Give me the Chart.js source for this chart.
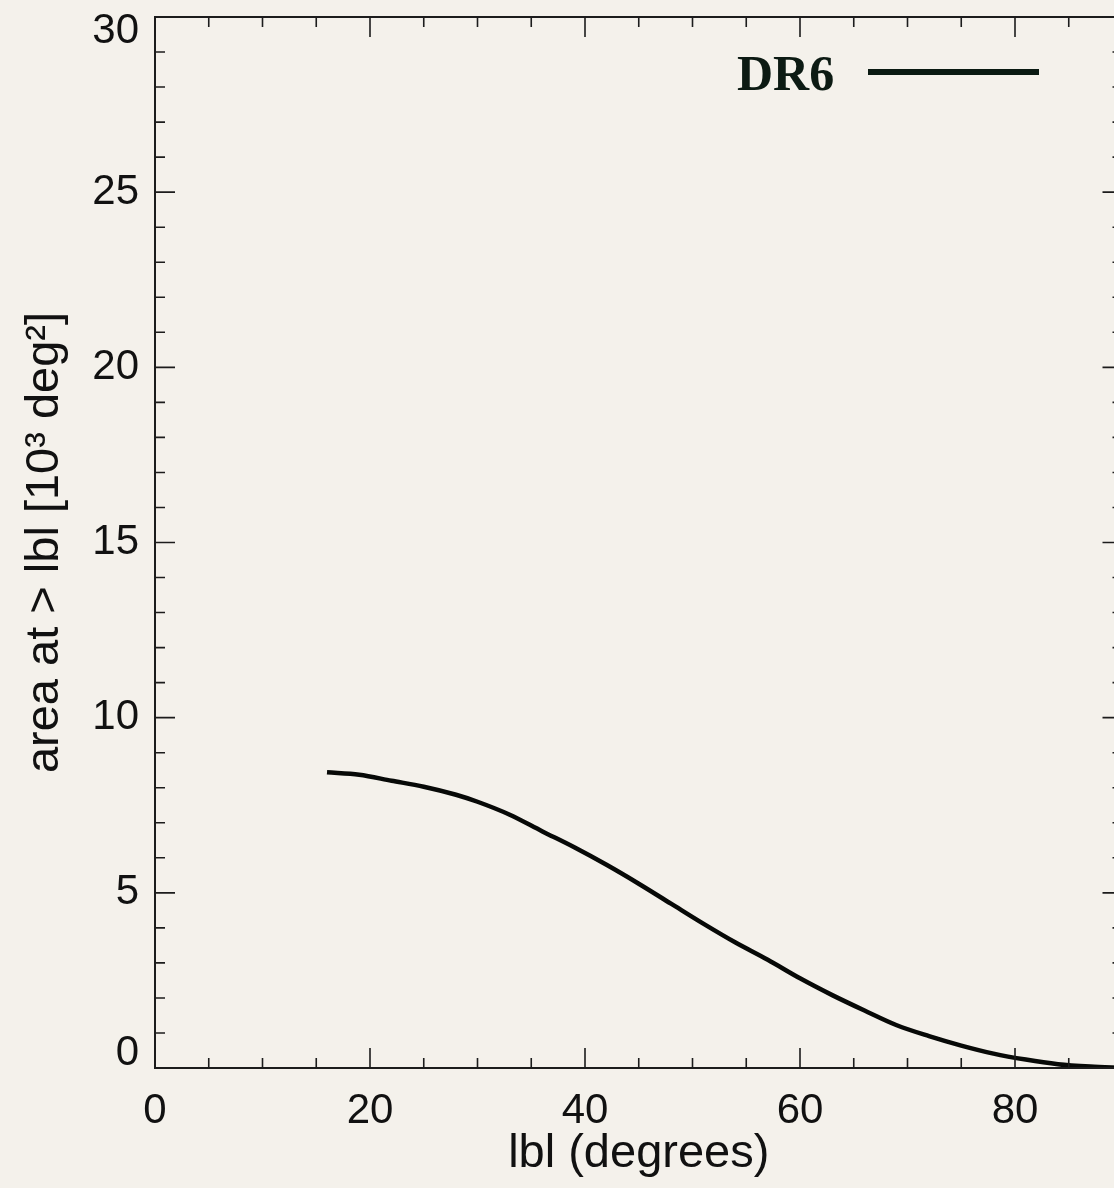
<!DOCTYPE html>
<html>
<head>
<meta charset="utf-8">
<script src="https://cdn.jsdelivr.net/npm/chart.js@4.4.1/dist/chart.umd.min.js"></script>
<style>
html, body { margin: 0; padding: 0; background: #f4f1eb; overflow: hidden; }
#wrap { position: relative; width: 1114px; height: 1188px; overflow: hidden; }
#wrap canvas { position: absolute; left: 0; top: 0; }
</style>
</head>
<body>
<div id="wrap"><canvas id="area" width="1180" height="1188"></canvas></div>
<script>
// |b| cut (degrees) and sky area above it (10^3 deg^2)
const latitude = [16, 19, 22, 25, 28, 30, 33, 36, 39, 42, 45, 48, 51, 54, 57, 60, 63, 66, 69, 72, 75, 78, 81, 84, 87, 90];
const areaAbove = [8.44, 8.37, 8.20, 8.03, 7.80, 7.60, 7.23, 6.76, 6.30, 5.80, 5.26, 4.69, 4.12, 3.58, 3.09, 2.56, 2.08, 1.64, 1.22, 0.91, 0.64, 0.41, 0.24, 0.11, 0.04, 0.0];
const seriesName = 'DR6';
const xTickLabels = [0, 20, 40, 60, 80];
const yTickLabels = [0, 5, 10, 15, 20, 25, 30];

const sans = '"Liberation Sans", Arial, Helvetica, sans-serif';
const ink = '#111111';

// boxed frame with inward ticks on all four sides, plus the inline key
const frameTicks = {
    id: 'frameTicks',
    afterDraw(chart) {
        const { ctx, chartArea: a, scales: { x, y } } = chart;
        ctx.save();
        ctx.strokeStyle = '#1c1c1c';
        ctx.lineWidth = 2;
        ctx.strokeRect(a.left, a.top, a.right - a.left, a.bottom - a.top);

        ctx.lineWidth = 1.6;
        ctx.beginPath();
        for (let v = x.min; v <= x.max; v += 5) {
            const px = x.getPixelForValue(v);
            const len = xTickLabels.includes(v) ? 20 : 10;
            ctx.moveTo(px, a.bottom); ctx.lineTo(px, a.bottom - len);
            ctx.moveTo(px, a.top); ctx.lineTo(px, a.top + len);
        }
        for (let v = y.min; v <= y.max; v += 1) {
            const py = y.getPixelForValue(v);
            const len = yTickLabels.includes(v) ? 20 : 10;
            ctx.moveTo(a.left, py); ctx.lineTo(a.left + len, py);
            ctx.moveTo(a.right, py); ctx.lineTo(a.right - len, py);
        }
        ctx.stroke();

        // key: label then a line sample
        const ds = chart.data.datasets[0];
        ctx.fillStyle = '#0c1a13';
        ctx.font = 'bold 50px "Liberation Serif", "Times New Roman", serif';
        ctx.textAlign = 'left';
        ctx.textBaseline = 'alphabetic';
        ctx.fillText(ds.label, 737, 90);
        ctx.strokeStyle = '#0a1a12';
        ctx.lineWidth = 6;
        ctx.beginPath();
        ctx.moveTo(868, 72);
        ctx.lineTo(1039, 72);
        ctx.stroke();
        ctx.restore();
    }
};

// end labels sit inside the axis range: push them in by half a line
const yLabel = v => {
    if (!yTickLabels.includes(v)) return null;
    if (v === yTickLabels[0]) return [String(v), ''];
    if (v === yTickLabels[yTickLabels.length - 1]) return ['', String(v)];
    return String(v);
};

const ctx = document.getElementById('area').getContext('2d');
const chart = new Chart(ctx, {
    type: 'line',
    data: {
        datasets: [
            {
                label: seriesName,
                data: latitude.map((b, i) => ({ x: b, y: areaAbove[i] })),
                borderColor: '#070907',
                borderWidth: 4.5,
                pointRadius: 0,
                cubicInterpolationMode: 'monotone',
                fill: false,
            }
        ]
    },
    options: {
        responsive: false,
        animation: false,
        devicePixelRatio: 1,
        layout: {
            padding: { left: 0, top: 17, right: 57.5, bottom: 0 }
        },
        plugins: {
            legend: { display: false },
            tooltip: { enabled: false },
        },
        scales: {
            x: {
                type: 'linear',
                min: 0,
                max: 90,
                grid: { display: false, drawTicks: false },
                border: { display: false },
                ticks: {
                    stepSize: 20,
                    color: ink,
                    padding: 22,
                    maxRotation: 0,
                    font: { family: sans, size: 42, lineHeight: 1 },
                    callback: v => xTickLabels.includes(v) ? String(v) : null,
                },
                title: {
                    display: true,
                    text: 'lbl (degrees)',
                    color: ink,
                    font: { family: sans, size: 47, lineHeight: 1 },
                    padding: { top: 0, bottom: 10 },
                },
                afterFit: scale => { scale.height = 120; },
            },
            y: {
                type: 'linear',
                min: 0,
                max: 30,
                grid: { display: false, drawTicks: false },
                border: { display: false },
                ticks: {
                    stepSize: 5,
                    color: ink,
                    padding: 16,
                    font: { family: sans, size: 42, lineHeight: 0.7 },
                    callback: yLabel,
                },
                title: {
                    display: true,
                    text: 'area at > lbl [10³ deg²]',
                    color: ink,
                    font: { family: sans, size: 47, lineHeight: 1 },
                    padding: { top: 22, bottom: 0 },
                },
                afterFit: scale => {
                    scale.width = 155;
                    scale.paddingTop = 0;
                    scale.paddingBottom = 0;
                },
            }
        }
    },
    plugins: [frameTicks]
});
</script>
</body>
</html>
